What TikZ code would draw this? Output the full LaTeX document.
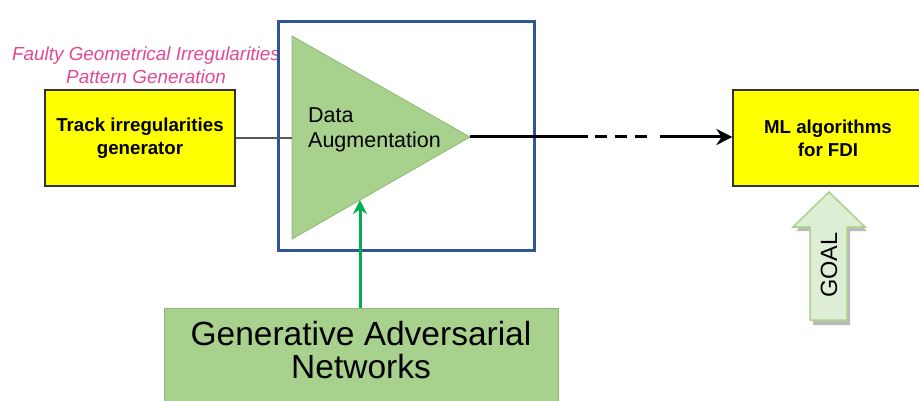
\documentclass[tikz,border=0pt]{standalone}
\usepackage{fontspec}
\setmainfont{Liberation Sans}
\usepackage{tikz}
\usetikzlibrary{arrows.meta,positioning,calc}

\definecolor{gyellow}{RGB}{255,255,0}
\definecolor{ganfill}{RGB}{169,209,142}
\definecolor{ganedge}{RGB}{140,185,115}
\definecolor{boxblue}{RGB}{47,85,151}
\definecolor{faultpink}{RGB}{226,72,148}
\definecolor{arrgreen}{RGB}{0,176,80}
\definecolor{goalfill}{RGB}{222,238,212}

\begin{document}
\begin{tikzpicture}[x=1pt, y=-1pt,
    block/.style={draw=black!80, line width=1.2pt, fill=gyellow, minimum width=190pt, minimum height=96pt, align=center, font=\fontsize{18.7}{23}\selectfont\bfseries},
    ganbox/.style={draw=ganedge, line width=0.8pt, fill=ganfill, minimum width=394pt, minimum height=110pt},
    lbl/.style={inner sep=0pt, align=center},
    arr/.style={-{Stealth[length=16pt, width=16pt]}, line width=3pt},
    garr/.style={-{Stealth[length=14pt, width=14pt]}, line width=3pt, arrgreen}
]
\clip (0,0) rectangle (919,401);

% pattern generation side
\node[lbl, text=faultpink, font=\fontsize{18.9}{23}\selectfont\itshape] (faulty) at (146,65) {Faulty Geometrical Irregularities\\Pattern Generation};
\node[block] (track) at (140,138) {Track irregularities\\generator};

% data augmentation
\node[draw=boxblue, line width=3pt, minimum width=256pt, minimum height=228pt] (augbox) at (406,136) {};
\coordinate (tl) at (292,36);
\coordinate (tip) at (470,137);
\coordinate (bl) at (292,239);
\filldraw[fill=ganfill, draw=ganedge, line width=0.8pt] (tl) -- (tip) -- (bl) -- cycle;
\node[lbl, anchor=base west, align=left, font=\fontsize{21.5}{25}\selectfont] (aug) at (308,148) {Data\\Augmentation};
\draw[black!65, line width=2pt] (track.east) -- (tl |- track.east);

% GAN
\node[ganbox] (gan) at (361,363) {};
\node[lbl, font=\fontsize{33.5}{33}\selectfont] (gantext) at (361,350) {Generative Adversarial\\Networks};
\coordinate (ganin) at (360,200);
\draw[garr] (gan.north -| ganin) -- (ganin);

% output to ML
\node[block] (ml) at (828,138) {ML algorithms\\for FDI};
\coordinate (d1) at (588,137);
\coordinate (d2) at (595,137);
\coordinate (d3) at (648,137);
\coordinate (d4) at (660,137);
\draw[line width=3pt] (tip) -- (d1);
\draw[line width=3pt, dash pattern=on 12pt off 8pt] (d2) -- (d3);
\draw[arr] (d4) -- (d4 -| ml.west);

% goal arrow
\fill[black!45, opacity=0.6] ($(829,192)+(2,4)$) -- ++(36,35) -- ++(-17,0) -- ++(0,94) -- ++(-37,0) -- ++(0,-94) -- ++(-17,0) -- cycle;
\filldraw[fill=goalfill, draw=ganfill, line width=1.5pt] (829,192) -- (865,227) -- (847,227) -- (847,320) -- (810,320) -- (810,227) -- (793,227) -- cycle;
\node[lbl, rotate=90, font=\fontsize{23.5}{26}\selectfont] (goal) at (829,265) {GOAL};
\end{tikzpicture}
\end{document}
